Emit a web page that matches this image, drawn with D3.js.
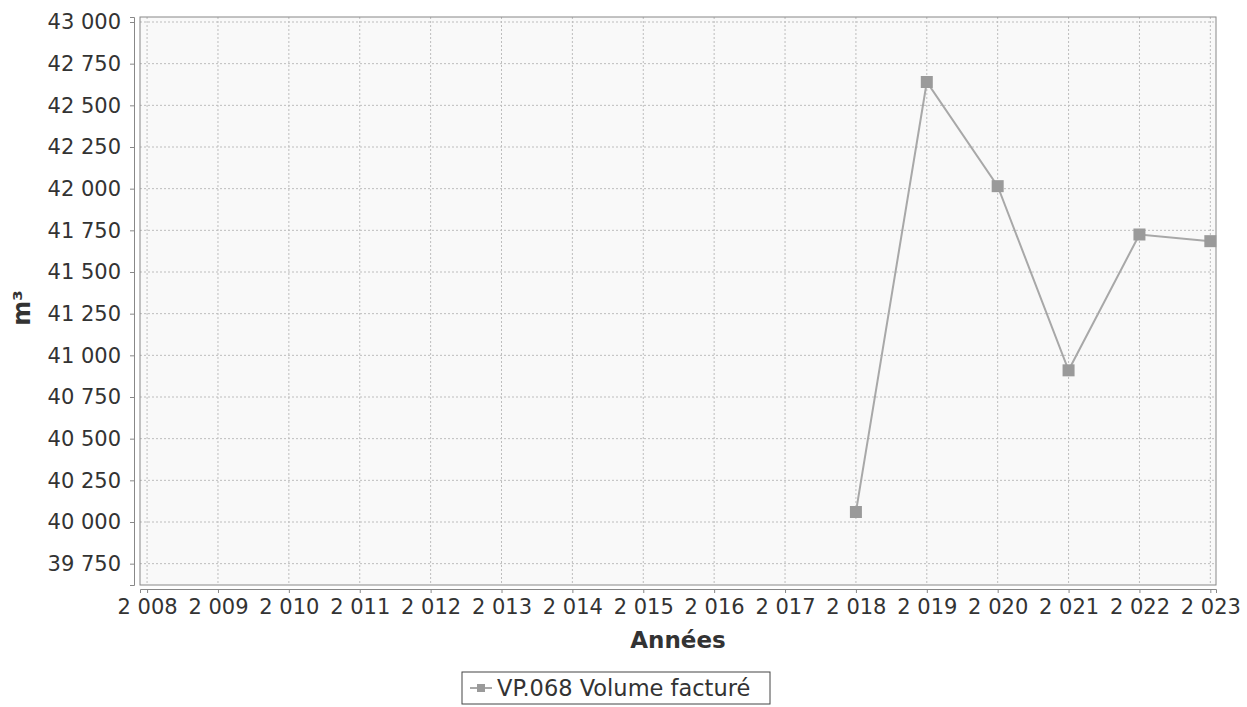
<!DOCTYPE html>
<html>
<head>
<meta charset="utf-8">
<script src="https://cdn.jsdelivr.net/npm/d3@7"></script>
<style>
  body { margin: 0; background: #fff; }
  text { font-family: "DejaVu Sans", sans-serif; }
</style>
</head>
<body>
<svg id="chart" width="1247" height="707"></svg>
<script>
// data
var years = [2018, 2019, 2020, 2021, 2022, 2023];
var volumes = [40060, 42640, 42015, 40910, 41725, 41685];
var yTicks = [39750, 40000, 40250, 40500, 40750, 41000, 41250, 41500, 41750, 42000, 42250, 42500, 42750, 43000];
var xTicks = d3.range(2008, 2024);
var seriesName = "VP.068 Volume facturé";

var svg = d3.select("#chart"),
    plotLeft = 140, plotRight = 1216, plotTop = 17, plotBottom = 585;

var fr = d3.formatLocale({ decimal: ",", thousands: "\u00a0", grouping: [3], currency: ["", " €"] });
var fmt = fr.format(",d");

var x = d3.scaleLinear().domain([2007.9, 2023.08]).range([plotLeft, plotRight]);
var y = d3.scaleLinear().domain([39622, 43030]).range([plotBottom, plotTop]);

// plot background
svg.append("rect")
    .attr("x", plotLeft).attr("y", plotTop)
    .attr("width", plotRight - plotLeft).attr("height", plotBottom - plotTop)
    .attr("fill", "#f9f9f9");

// grid lines
svg.append("g").selectAll("line")
    .data(yTicks)
    .enter().append("line")
    .attr("x1", plotLeft).attr("x2", plotRight)
    .attr("y1", function (d) { return y(d); })
    .attr("y2", function (d) { return y(d); })
    .attr("stroke", "#bdbdbd")
    .attr("stroke-dasharray", "2,2");

svg.append("g").selectAll("line")
    .data(xTicks)
    .enter().append("line")
    .attr("y1", plotTop).attr("y2", plotBottom)
    .attr("x1", function (d) { return x(d); })
    .attr("x2", function (d) { return x(d); })
    .attr("stroke", "#bdbdbd")
    .attr("stroke-dasharray", "2,2");

// plot border
svg.append("rect")
    .attr("x", plotLeft).attr("y", plotTop)
    .attr("width", plotRight - plotLeft).attr("height", plotBottom - plotTop)
    .attr("fill", "none")
    .attr("stroke", "#888");

// axes
var yAxis = svg.append("g")
    .attr("transform", "translate(" + (plotLeft - 6) + ",0)")
    .call(d3.axisLeft(y).tickValues(yTicks).tickFormat(fmt).tickSize(4).tickPadding(9));

var xAxis = svg.append("g")
    .attr("transform", "translate(0," + (plotBottom + 4) + ")")
    .call(d3.axisBottom(x).tickValues(xTicks).tickFormat(fmt).tickSize(4).tickPadding(6));

[yAxis, xAxis].forEach(function (a) {
    a.select(".domain").attr("stroke", "#888");
    a.selectAll(".tick line").attr("stroke", "#888");
    a.selectAll("text")
        .attr("fill", "#333")
        .style("font-size", "21px")
        .style("font-family", "DejaVu Sans, sans-serif");
});

// axis titles
svg.append("text")
    .attr("transform", "translate(30," + ((plotTop + plotBottom) / 2 + 7) + ") rotate(-90)")
    .attr("text-anchor", "middle")
    .attr("fill", "#333")
    .style("font-size", "24px")
    .style("font-weight", "bold")
    .text("m³");

svg.append("text")
    .attr("x", (plotLeft + plotRight) / 2)
    .attr("y", 648)
    .attr("text-anchor", "middle")
    .attr("fill", "#333")
    .style("font-size", "23px")
    .style("font-weight", "bold")
    .text("Années");

// series
var pts = years.map(function (d, i) { return [d, volumes[i]]; });

svg.append("path")
    .datum(pts)
    .attr("fill", "none")
    .attr("stroke", "#a8a8a8")
    .attr("stroke-width", 2)
    .attr("d", d3.line().x(function (d) { return x(d[0]); }).y(function (d) { return y(d[1]); }));

svg.append("g").selectAll("rect")
    .data(pts)
    .enter().append("rect")
    .attr("x", function (d) { return x(d[0]) - 6; })
    .attr("y", function (d) { return y(d[1]) - 6; })
    .attr("width", 12).attr("height", 12)
    .attr("fill", "#9a9a9a");

// legend
var lg = svg.append("g").attr("transform", "translate(462,672)");
lg.append("rect")
    .attr("width", 308).attr("height", 32)
    .attr("fill", "#fff")
    .attr("stroke", "#444");
lg.append("line")
    .attr("x1", 8).attr("x2", 30).attr("y1", 16).attr("y2", 16)
    .attr("stroke", "#a8a8a8").attr("stroke-width", 2);
lg.append("rect")
    .attr("x", 15).attr("y", 12).attr("width", 8).attr("height", 8)
    .attr("fill", "#9a9a9a");
lg.append("text")
    .attr("x", 35).attr("y", 24)
    .attr("fill", "#333")
    .style("font-size", "22.5px")
    .text(seriesName);
</script>
</body>
</html>
